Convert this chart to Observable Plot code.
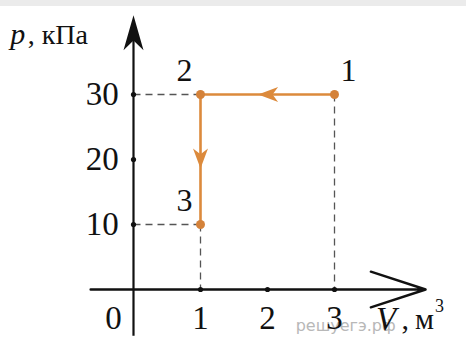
<!DOCTYPE html>
<html>
<head>
<meta charset="utf-8">
<script src="https://cdn.jsdelivr.net/npm/d3@7"></script>
<script src="https://cdn.jsdelivr.net/npm/@observablehq/plot@0.6"></script>
<style>
  html, body { margin: 0; padding: 0; background: #ffffff; }
  .band { height: 6px; background: #ebebeb; }
  #chart svg { display: block; }
</style>
</head>
<body>
<div class="band"></div>
<div id="chart"></div>
<script>
// States of the gas on the p–V diagram (V in m³, p in kPa)
const stateNames = ["1", "2", "3"];
const volumes = [3, 1, 1];
const pressures = [30, 30, 10];

// Axis ticks
const xTicks = [1, 2, 3];
const yTicks = [10, 20, 30];

const states = stateNames.map((name, i) => ({name, v: volumes[i], p: pressures[i]}));

const orange = "#dc8a3c";
const ink = "#111111";
const serif = "'Liberation Serif', 'Times New Roman', serif";

// Axis extents beyond the data
const xAxisFrom = -0.64, xAxisTo = 4.36;
const yAxisFrom = -7.1, yAxisTo = 42.2;

// Filled "stealth" arrowhead drawn with its tip at the dot position
function arrowHead(dx, dy, len, halfW) {
  return {
    draw(ctx) {
      const px = -dy, py = dx;
      const bx = -dx * len, by = -dy * len;
      ctx.moveTo(0, 0);
      ctx.lineTo(bx + px * halfW, by + py * halfW);
      ctx.lineTo(-dx * len * 0.72, -dy * len * 0.72);
      ctx.lineTo(bx - px * halfW, by - py * halfW);
      ctx.closePath();
    }
  };
}

// Direction arrows placed part way along each process segment
const headAt = 0.57;
const heads = d3.pairs(states).map(([a, b]) => ({
  v: a.v + headAt * (b.v - a.v),
  p: a.p + headAt * (b.p - a.p),
  dir: b.v !== a.v ? [Math.sign(b.v - a.v), 0] : [0, -Math.sign(b.p - a.p)]
}));

// Dashed projections onto the axes
const toYAxis = states.filter(d => d.v === 1);
const toXAxis = states.filter(d => d.name !== "2");

const txt = (data, opts) => Plot.text(data, {fontFamily: serif, fill: ink, ...opts});

const chart = Plot.plot({
  width: 466,
  height: 332,
  margin: 0,
  x: {domain: [0, 3], range: [133, 334], axis: null},
  y: {domain: [0, 30], range: [283, 88], axis: null},
  style: {fontFamily: serif, background: "#ffffff", overflow: "visible"},
  marks: [
    // watermark
    Plot.text(["решуегэ.рф"], {x: 2.42, y: -5.6, text: d => d, textAnchor: "start",
      fontFamily: "'DejaVu Sans', sans-serif", fontSize: 16, fill: "#b8b8b8"}),

    // dashed guides
    Plot.link(toYAxis, {x1: 0, x2: "v", y1: "p", y2: "p",
      stroke: "#555", strokeWidth: 1.3, strokeDasharray: "7,5"}),
    Plot.link(toXAxis, {x1: "v", x2: "v", y1: "p", y2: 0,
      stroke: "#555", strokeWidth: 1.3, strokeDasharray: "7,5"}),

    // axes
    Plot.arrow([0], {x1: xAxisFrom, x2: xAxisTo, y1: 0, y2: 0,
      stroke: ink, strokeWidth: 2.4, headLength: 36, headAngle: 36}),
    Plot.link([0], {x1: 0, x2: 0, y1: yAxisFrom, y2: yAxisTo - 3,
      stroke: ink, strokeWidth: 2.2}),
    Plot.dot([0], {x: 0, y: yAxisTo, symbol: arrowHead(0, -1, 35, 10), r: 10,
      fill: ink, stroke: "none"}),

    // tick dots
    Plot.dot(xTicks, {x: d => d, y: 0, r: 2.6, fill: ink, stroke: "none"}),
    Plot.dot(yTicks, {x: 0, y: d => d, r: 2.6, fill: ink, stroke: "none"}),

    // tick labels
    txt(xTicks, {x: d => d, y: -4.4, text: d => String(d), fontSize: 33}),
    txt([0], {x: -0.3, y: -4.4, text: d => String(d), fontSize: 33}),
    txt(yTicks, {x: -0.22, y: d => d, text: d => String(d), textAnchor: "end", fontSize: 33}),

    // axis titles
    txt(["p"], {x: -1.84, y: 39.2, text: d => d, textAnchor: "start",
      fontSize: 30, fontStyle: "italic"}),
    txt([", кПа"], {x: -1.58, y: 39.2, text: d => d, textAnchor: "start", fontSize: 28}),
    txt(["V"], {x: 3.62, y: -4.6, text: d => d, textAnchor: "start",
      fontSize: 33, fontStyle: "italic"}),
    txt([",\u2009м"], {x: 4.0, y: -4.6, text: d => d, textAnchor: "start", fontSize: 30}),
    txt(["3"], {x: 4.5, y: -2.6, text: d => d, textAnchor: "start", fontSize: 18}),

    // process 1 → 2 → 3
    Plot.line(states, {x: "v", y: "p", stroke: orange, strokeWidth: 2.6}),
    ...heads.map(h => Plot.dot([h], {x: "v", y: "p", symbol: arrowHead(h.dir[0], h.dir[1], 20, 7.5),
      r: 7, fill: orange, stroke: "none"})),
    Plot.dot(states, {x: "v", y: "p", r: 4.5, fill: "#d4823a", stroke: "none"}),

    // state numbers
    txt(states.filter(d => d.name === "1"), {x: "v", y: "p", text: "name",
      dx: 14, dy: -24, fontSize: 32}),
    txt(states.filter(d => d.name !== "1"), {x: "v", y: "p", text: "name",
      dx: -16, dy: -24, fontSize: 32})
  ]
});

document.getElementById("chart").append(chart);
</script>
</body>
</html>
